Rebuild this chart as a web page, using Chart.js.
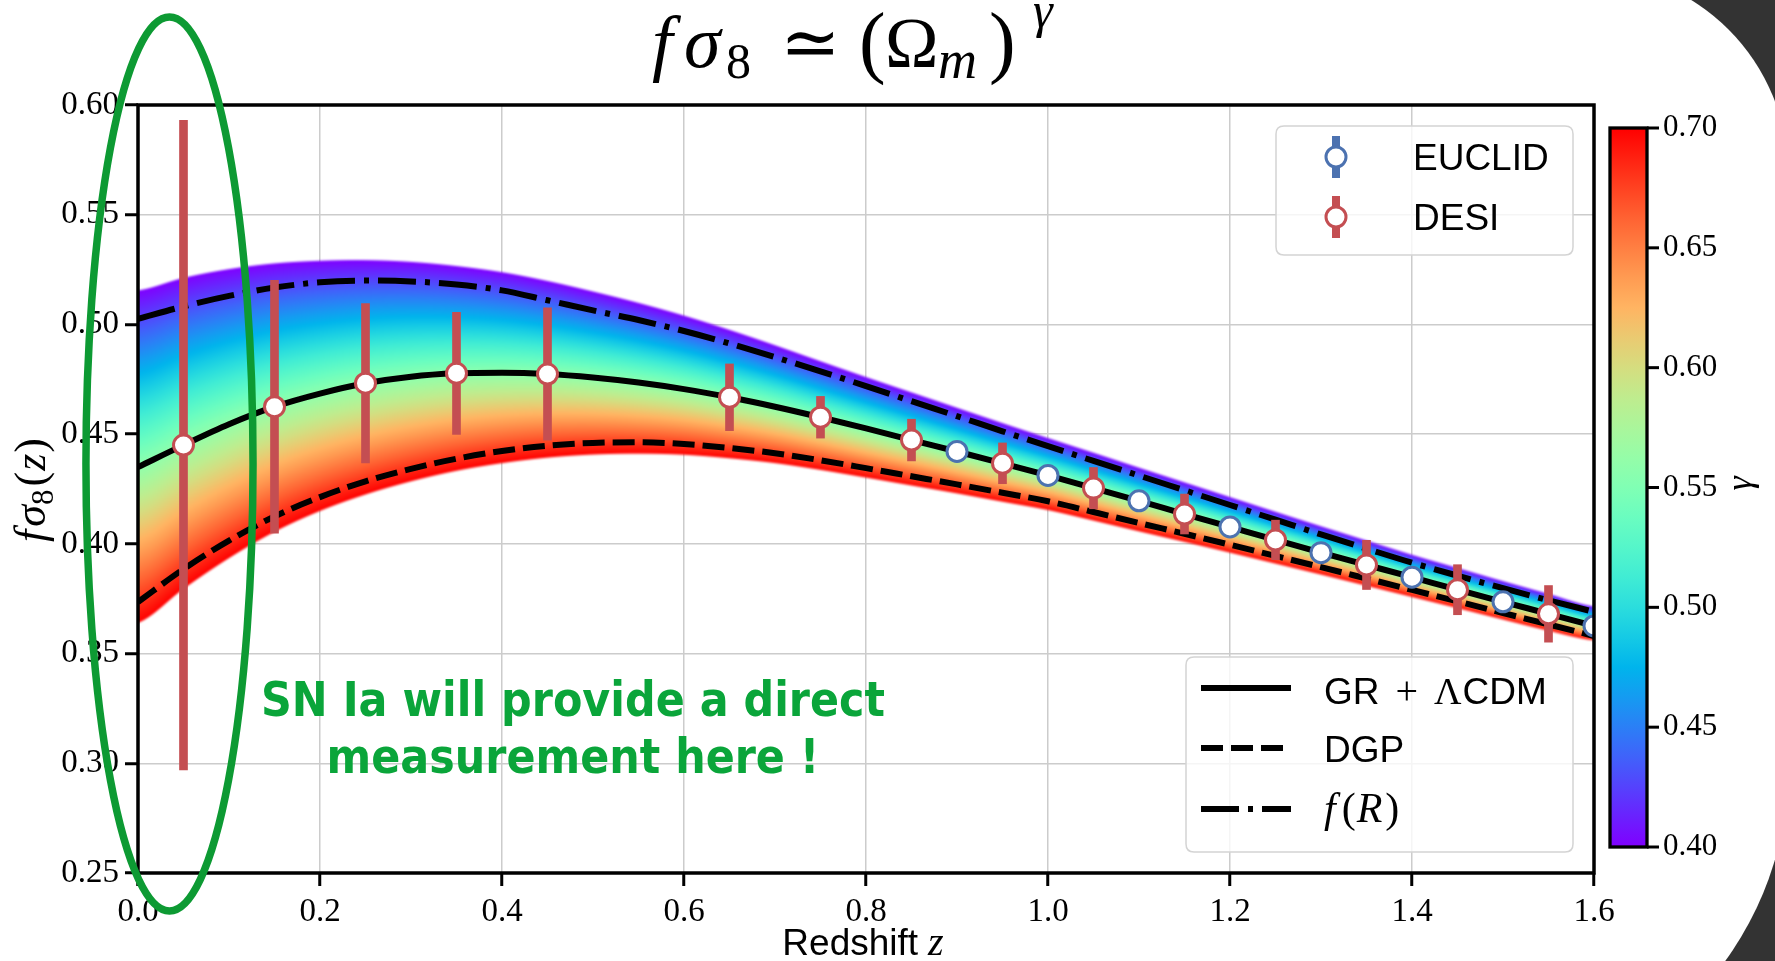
<!DOCTYPE html>
<html>
<head>
<meta charset="utf-8">
<title>fsigma8 growth index</title>
<script src="https://cdn.jsdelivr.net/npm/chart.js@4.4.1/dist/chart.umd.min.js"></script>
<style>
  html, body { margin: 0; padding: 0; background: #fff; }
  #wrap { width: 1775px; height: 961px; }
</style>
</head>
<body>
<div id="wrap"><canvas id="fs8" width="1775" height="961"></canvas></div>
<script>
// redshift grid of the model curves
const zGrid = [0.00, 0.05, 0.10, 0.15, 0.20, 0.25, 0.30, 0.35, 0.40, 0.45, 0.50,
               0.55, 0.60, 0.65, 0.70, 0.75, 0.80, 0.85, 0.90, 0.95, 1.00, 1.05,
               1.10, 1.15, 1.20, 1.25, 1.30, 1.35, 1.40, 1.45, 1.50, 1.55, 1.60];

// GR + LCDM (gamma ~ 0.55)
const fs8GR = [0.4350, 0.4450, 0.4545, 0.4625, 0.4685, 0.4732, 0.4762, 0.4777, 0.4780, 0.4774, 0.4758,
               0.4735, 0.4705, 0.4668, 0.4625, 0.4577, 0.4526, 0.4473, 0.4421, 0.4367, 0.4312, 0.4254,
               0.4196, 0.4136, 0.4077, 0.4018, 0.3960, 0.3904, 0.3848, 0.3791, 0.3736, 0.3681, 0.3626];
// DGP
const fs8DGP = [0.3735, 0.3885, 0.4015, 0.4125, 0.4213, 0.4285, 0.4342, 0.4388, 0.4423, 0.4447, 0.4460,
                0.4463, 0.4455, 0.4437, 0.4413, 0.4381, 0.4345, 0.4308, 0.4271, 0.4233, 0.4194, 0.4145,
                0.4095, 0.4046, 0.3996, 0.3945, 0.3894, 0.3842, 0.3790, 0.3738, 0.3685, 0.3633, 0.3580];
// f(R)
const fs8FR = [0.5025, 0.5082, 0.5130, 0.5168, 0.5192, 0.5200, 0.5196, 0.5182, 0.5155, 0.5110, 0.5064,
               0.5020, 0.4970, 0.4913, 0.4851, 0.4786, 0.4719, 0.4650, 0.4582, 0.4513, 0.4445, 0.4378,
               0.4311, 0.4244, 0.4177, 0.4110, 0.4043, 0.3978, 0.3914, 0.3855, 0.3798, 0.3743, 0.3690];
// edges of the gamma band: gamma = 0.40 (upper) and gamma = 0.70 (lower)
const bandTop = [0.5155, 0.5212, 0.5252, 0.5278, 0.5290, 0.5293, 0.5285, 0.5266, 0.5238, 0.5198, 0.5150,
                 0.5098, 0.5040, 0.4975, 0.4905, 0.4832, 0.4760, 0.4690, 0.4620, 0.4550, 0.4482, 0.4415,
                 0.4347, 0.4280, 0.4213, 0.4146, 0.4080, 0.4015, 0.3950, 0.3890, 0.3830, 0.3772, 0.3715];
const bandBottom = [0.3640, 0.3795, 0.3935, 0.4055, 0.4150, 0.4225, 0.4285, 0.4333, 0.4368, 0.4393, 0.4407,
                    0.4411, 0.4406, 0.4390, 0.4368, 0.4337, 0.4302, 0.4266, 0.4230, 0.4192, 0.4154, 0.4106,
                    0.4057, 0.4009, 0.3960, 0.3910, 0.3860, 0.3809, 0.3758, 0.3707, 0.3655, 0.3604, 0.3560];

// forecast points
const desiZ   = [0.05, 0.15, 0.25, 0.35, 0.45, 0.65, 0.75, 0.85, 0.95, 1.05, 1.15, 1.25, 1.35, 1.45, 1.55];
const desiFs8 = [0.4450, 0.4625, 0.4732, 0.4777, 0.4774, 0.4668, 0.4577, 0.4473, 0.4367, 0.4254, 0.4136,
                 0.4018, 0.3904, 0.3791, 0.3681];
const desiErr = [0.1480, 0.0576, 0.0363, 0.0278, 0.0302, 0.0152, 0.0095, 0.0095, 0.0093, 0.0094, 0.0091,
                 0.0090, 0.0112, 0.0114, 0.0129];
const euclidZ   = [0.9, 1.0, 1.1, 1.2, 1.3, 1.4, 1.5, 1.6];
const euclidFs8 = [0.4421, 0.4312, 0.4196, 0.4077, 0.3960, 0.3848, 0.3736, 0.3626];
const euclidErr = [0.004, 0.004, 0.004, 0.004, 0.004, 0.004, 0.004, 0.004];

// ticks
const xTicks = [0.0, 0.2, 0.4, 0.6, 0.8, 1.0, 1.2, 1.4, 1.6];
const yTicks = [0.25, 0.30, 0.35, 0.40, 0.45, 0.50, 0.55, 0.60];
const gammaTicks = [0.40, 0.45, 0.50, 0.55, 0.60, 0.65, 0.70];

const SERIF = '"Liberation Serif", "DejaVu Serif", serif';
const SANS = '"Liberation Sans", "DejaVu Sans", sans-serif';
const DESI_C = '#c44e52';
const EUCLID_C = '#4c72b0';
const NOTE_C = '#0aa53a';
const RING_C = '#0d9a33';

// matplotlib "rainbow" colormap
function rainbow(t) {
  const r = Math.min(1, Math.abs(2 * t - 0.5));
  const g = Math.max(0, Math.sin(Math.PI * t));
  const b = Math.max(0, Math.cos(Math.PI * t / 2));
  return 'rgb(' + Math.round(r * 255) + ',' + Math.round(g * 255) + ',' + Math.round(b * 255) + ')';
}

// smooth value of a curve on zGrid (Catmull-Rom)
function curveAt(vals, z) {
  const n = zGrid.length;
  let i = 0;
  while (i < n - 2 && zGrid[i + 1] <= z) i++;
  const t = (z - zGrid[i]) / (zGrid[i + 1] - zGrid[i]);
  const p0 = vals[Math.max(i - 1, 0)], p1 = vals[i], p2 = vals[i + 1], p3 = vals[Math.min(i + 2, n - 1)];
  return 0.5 * (2 * p1 + (p2 - p0) * t + (2 * p0 - 5 * p1 + 4 * p2 - p3) * t * t +
                (3 * p1 - p0 - 3 * p2 + p3) * t * t * t);
}

// draw a row of text pieces: [text, font, gap, dy]
function runsWidth(ctx, runs) {
  let w = 0;
  runs.forEach(r => { ctx.font = r[1]; w += (r[2] || 0) + ctx.measureText(r[0]).width; });
  return w;
}
function drawRuns(ctx, runs, x, y) {
  let cx = x;
  runs.forEach(r => {
    ctx.font = r[1];
    cx += r[2] || 0;
    ctx.fillText(r[0], cx, y + (r[3] || 0));
    cx += ctx.measureText(r[0]).width;
  });
}

function boxPath(ctx, x, y, w, h, r) {
  ctx.beginPath();
  ctx.moveTo(x + r, y);
  ctx.lineTo(x + w - r, y); ctx.quadraticCurveTo(x + w, y, x + w, y + r);
  ctx.lineTo(x + w, y + h - r); ctx.quadraticCurveTo(x + w, y + h, x + w - r, y + h);
  ctx.lineTo(x + r, y + h); ctx.quadraticCurveTo(x, y + h, x, y + h - r);
  ctx.lineTo(x, y + r); ctx.quadraticCurveTo(x, y, x + r, y);
  ctx.closePath();
}

const lineSet = (label, vals, dash, order) => ({
  type: 'line', label,
  data: zGrid.map((z, i) => ({ x: z, y: vals[i] })),
  borderColor: '#000', borderWidth: 6, borderDash: dash, borderCapStyle: 'butt',
  pointRadius: 0, cubicInterpolationMode: 'monotone', fill: false, order
});
const grSet = lineSet('GR + \u039BCDM', fs8GR, [], 4);
const dgpSet = lineSet('DGP', fs8DGP, [22, 8], 5);
const frSet = lineSet('f(R)', fs8FR, [38, 9, 5, 9], 6);

// colour band for gamma in [0.40, 0.70]
const gammaBand = {
  id: 'gammaBand',
  beforeDatasetsDraw(chart) {
    const { ctx, chartArea: a, scales: { x, y } } = chart;
    const off = document.createElement('canvas');
    off.width = chart.width; off.height = chart.height;
    const o = off.getContext('2d');
    const nStop = 24;
    const stops = [];
    for (let k = 0; k <= nStop; k++) stops.push(rainbow(k / nStop));
    for (let px = Math.floor(a.left) - 4; px < Math.ceil(a.right) + 4; px++) {
      const z = x.getValueForPixel(px + 0.5);
      const yt = y.getPixelForValue(curveAt(bandTop, z));
      const yb = y.getPixelForValue(curveAt(bandBottom, z));
      const g = o.createLinearGradient(0, yt, 0, yb);
      stops.forEach((c, k) => g.addColorStop(k / nStop, c));
      o.fillStyle = g;
      o.fillRect(px, yt, 1, yb - yt);
    }
    ctx.save();
    ctx.beginPath();
    ctx.rect(a.left, a.top, a.right - a.left, a.bottom - a.top);
    ctx.clip();
    ctx.filter = 'blur(1.2px)';
    ctx.drawImage(off, 0, 0);
    ctx.restore();
  }
};

const decor = {
  id: 'decor',
  beforeDraw(chart) {
    const { ctx, width, height } = chart;
    ctx.save();
    ctx.fillStyle = '#fff';
    ctx.fillRect(0, 0, width, height);
    // dark slide background at the right corners
    [[1560, 0, 215, 220, 1585, 173, 203], [1540, 760, 235, 201, 1460, 768, 328]].forEach(c => {
      ctx.save();
      ctx.beginPath(); ctx.rect(c[0], c[1], c[2], c[3]); ctx.clip();
      ctx.fillStyle = '#333333'; ctx.fillRect(c[0], c[1], c[2], c[3]);
      ctx.fillStyle = '#fff';
      ctx.beginPath(); ctx.arc(c[4], c[5], c[6], 0, 2 * Math.PI); ctx.fill();
      ctx.restore();
    });
    ctx.restore();
  },
  afterDatasetsDraw(chart) {
    const { ctx, chartArea: a } = chart;
    ctx.save();
    ctx.strokeStyle = '#000';
    ctx.lineWidth = 3.5;
    ctx.strokeRect(a.left, a.top, a.right - a.left, a.bottom - a.top);
    ctx.restore();
  },
  afterDraw(chart) {
    const { ctx, chartArea: a, scales: { x, y } } = chart;
    ctx.save();
    ctx.fillStyle = '#000';
    ctx.textBaseline = 'alphabetic';

    // title  f sigma_8 ~ (Omega_m)^gamma
    const it74 = 'italic 74px ' + SERIF, up72 = '72px ' + SERIF, up80 = '80px ' + SERIF;
    const it54 = 'italic 54px ' + SERIF, up50 = '50px ' + SERIF, it50 = 'italic 50px ' + SERIF;
    [['f', it74, 652, 67], ['\u03C3', it74, 684, 67], ['8', up50, 726, 78], ['\u2243', up72, 780, 67],
     ['(', up80, 859, 68], ['\u03A9', up72, 885, 67], ['m', it54, 938, 78], [')', up80, 989, 68],
     ['\u03B3', it50, 1033, 27]].forEach(p => { ctx.font = p[1]; ctx.fillText(p[0], p[2], p[3]); });

    // axis titles
    const xRuns = [['Redshift', '37px ' + SANS], ['z', 'italic 40px ' + SERIF, 10]];
    drawRuns(ctx, xRuns, 863 - runsWidth(ctx, xRuns) / 2, 955);
    const yRuns = [['f', 'italic 44px ' + SERIF], ['\u03C3', 'italic 44px ' + SERIF, 3],
                   ['8', '31px ' + SERIF, 0, 8], ['(', '44px ' + SERIF, 3],
                   ['z', 'italic 44px ' + SERIF, 1], [')', '44px ' + SERIF, 1]];
    ctx.save();
    ctx.translate(45, 490);
    ctx.rotate(-Math.PI / 2);
    drawRuns(ctx, yRuns, -runsWidth(ctx, yRuns) / 2, 0);
    ctx.restore();

    // colour bar
    const cb = { l: 1610, r: 1647, t: 128, b: 847 };
    const cg = ctx.createLinearGradient(0, cb.t, 0, cb.b);
    for (let k = 0; k <= 24; k++) cg.addColorStop(k / 24, rainbow(1 - k / 24));
    ctx.fillStyle = cg;
    ctx.fillRect(cb.l, cb.t, cb.r - cb.l, cb.b - cb.t);
    ctx.strokeStyle = '#000';
    ctx.lineWidth = 3.3;
    ctx.strokeRect(cb.l, cb.t, cb.r - cb.l, cb.b - cb.t);
    const gMin = gammaTicks[0], gMax = gammaTicks[gammaTicks.length - 1];
    ctx.fillStyle = '#000';
    ctx.font = '31px ' + SERIF;
    ctx.textBaseline = 'middle';
    gammaTicks.forEach(g => {
      const py = cb.b - (g - gMin) / (gMax - gMin) * (cb.b - cb.t);
      ctx.lineWidth = 3;
      ctx.beginPath(); ctx.moveTo(cb.r, py); ctx.lineTo(cb.r + 12, py); ctx.stroke();
      ctx.fillText(g.toFixed(2), cb.r + 16, py);
    });
    ctx.save();
    ctx.translate(1742, (cb.t + cb.b) / 2 - 4);
    ctx.rotate(-Math.PI / 2);
    ctx.textAlign = 'center';
    ctx.font = 'italic 36px ' + SERIF;
    ctx.fillText('\u03B3', 0, 0);
    ctx.restore();
    ctx.textBaseline = 'alphabetic';

    // survey legend
    const l1 = { x: a.right - 21 - 297, y: a.top + 21, w: 297, h: 129 };
    boxPath(ctx, l1.x, l1.y, l1.w, l1.h, 8);
    ctx.fillStyle = 'rgba(255,255,255,0.8)'; ctx.fill();
    ctx.strokeStyle = '#d4d4d4'; ctx.lineWidth = 1.5; ctx.stroke();
    [['EUCLID', EUCLID_C, 31], ['DESI', DESI_C, 91]].forEach(e => {
      const mx = l1.x + 60, my = l1.y + e[2];
      ctx.fillStyle = e[1];
      ctx.fillRect(mx - 4, my - 21, 8, 42);
      ctx.beginPath(); ctx.arc(mx, my, 10, 0, 2 * Math.PI);
      ctx.fillStyle = '#fff'; ctx.fill();
      ctx.strokeStyle = e[1]; ctx.lineWidth = 3; ctx.stroke();
      ctx.fillStyle = '#000';
      ctx.font = '37px ' + SANS;
      ctx.fillText(e[0], l1.x + 137, my + 13);
    });

    // model legend
    const l2 = { x: a.right - 21 - 387, y: a.bottom - 21 - 195, w: 387, h: 195 };
    boxPath(ctx, l2.x, l2.y, l2.w, l2.h, 8);
    ctx.fillStyle = 'rgba(255,255,255,0.8)'; ctx.fill();
    ctx.strokeStyle = '#d4d4d4'; ctx.lineWidth = 1.5; ctx.stroke();
    const tx = l2.x + 138;
    const labels = [
      [grSet, 31, [['GR', '37px ' + SANS], ['+', '40px ' + SERIF, 16], ['\u039B', '38px ' + SERIF, 16], ['CDM', '37px ' + SANS, 1]], 47],
      [dgpSet, 91, [['DGP', '37px ' + SANS]], 105],
      [frSet, 152, [['f', 'italic 42px ' + SERIF], ['(', '42px ' + SERIF, 6], ['R', 'italic 42px ' + SERIF, 1], [')', '42px ' + SERIF, 3]], 165]
    ];
    labels.forEach(e => {
      const ly = l2.y + e[1];
      ctx.save();
      ctx.strokeStyle = '#000'; ctx.lineWidth = 6; ctx.lineCap = 'butt';
      ctx.setLineDash(e[0].borderDash);
      ctx.beginPath(); ctx.moveTo(l2.x + 15, ly); ctx.lineTo(l2.x + 105, ly); ctx.stroke();
      ctx.restore();
      ctx.fillStyle = '#000';
      drawRuns(ctx, e[2], tx, l2.y + e[3]);
    });

    // low-redshift note
    const ringZ = 0.0346, ringFs8 = 0.4364, ringDz = 0.0918, ringDf = 0.2037;
    const cx = x.getPixelForValue(ringZ), cy = y.getPixelForValue(ringFs8);
    const rx = x.getPixelForValue(ringZ + ringDz) - cx, ry = cy - y.getPixelForValue(ringFs8 + ringDf);
    ctx.strokeStyle = RING_C; ctx.lineWidth = 7.5;
    ctx.beginPath(); ctx.ellipse(cx, cy, rx, ry, 0, 0, 2 * Math.PI); ctx.stroke();

    const note = ['SN Ia will provide a direct', 'measurement here !'];
    const noteZ = 0.478, noteFs8 = [0.3216, 0.2956];
    ctx.font = 'bold 48px "DejaVu Sans", sans-serif';
    const sx = 624 / ctx.measureText(note[0]).width;
    ctx.fillStyle = NOTE_C;
    note.forEach((t, i) => {
      ctx.save();
      ctx.translate(x.getPixelForValue(noteZ), y.getPixelForValue(noteFs8[i]));
      ctx.scale(sx, 1);
      ctx.textAlign = 'center';
      ctx.fillText(t, 0, 0);
      ctx.restore();
    });
    ctx.restore();
  }
};

const tickFont = { family: SERIF, size: 33 };
const gridOpts = { color: '#cccccc', lineWidth: 1.5, offset: false, tickColor: '#000', tickWidth: 3, tickLength: 13 };

new Chart(document.getElementById('fs8'), {
  type: 'scatter',
  data: {
    datasets: [
      { type: 'scatter', label: 'EUCLID', data: euclidZ.map((z, i) => ({ x: z, y: euclidFs8[i] })),
        pointRadius: 10, pointBorderWidth: 3, pointBackgroundColor: '#fff', pointBorderColor: EUCLID_C,
        clip: 0, order: 0 },
      { type: 'scatter', label: 'DESI', data: desiZ.map((z, i) => ({ x: z, y: desiFs8[i] })),
        pointRadius: 10, pointBorderWidth: 3, pointBackgroundColor: '#fff', pointBorderColor: DESI_C,
        clip: 0, order: 1 },
      { type: 'bar', label: 'EUCLID error',
        data: euclidZ.map((z, i) => ({ x: z, y: [euclidFs8[i] - euclidErr[i], euclidFs8[i] + euclidErr[i]] })),
        backgroundColor: EUCLID_C, grouped: false, maxBarThickness: 8, barPercentage: 1, categoryPercentage: 1,
        clip: 0, order: 2 },
      { type: 'bar', label: 'DESI error',
        data: desiZ.map((z, i) => ({ x: z, y: [desiFs8[i] - desiErr[i], desiFs8[i] + desiErr[i]] })),
        backgroundColor: DESI_C, grouped: false, maxBarThickness: 8, barPercentage: 1, categoryPercentage: 1,
        clip: 0, order: 3 },
      grSet, dgpSet, frSet
    ]
  },
  options: {
    responsive: false,
    animation: false,
    devicePixelRatio: 1,
    events: [],
    layout: { padding: { top: 105, right: 181, left: 0, bottom: 0 } },
    plugins: { legend: { display: false }, tooltip: { enabled: false } },
    scales: {
      x: {
        type: 'linear', min: 0, max: 1.6, offset: false,
        afterFit: s => { s.height = 88; },
        afterBuildTicks: s => { s.ticks = xTicks.map(v => ({ value: v })); },
        ticks: { font: tickFont, color: '#000', padding: 7, maxRotation: 0, autoSkip: false,
                 callback: v => Number(v).toFixed(1) },
        grid: gridOpts,
        border: { display: false }
      },
      y: {
        type: 'linear', min: 0.25, max: 0.60,
        afterFit: s => { s.width = 138; },
        afterBuildTicks: s => { s.ticks = yTicks.map(v => ({ value: v })); },
        ticks: { font: tickFont, color: '#000', padding: 6, autoSkip: false,
                 callback: v => Number(v).toFixed(2) },
        grid: gridOpts,
        border: { display: false }
      }
    }
  },
  plugins: [decor, gammaBand]
});
</script>
</body>
</html>
